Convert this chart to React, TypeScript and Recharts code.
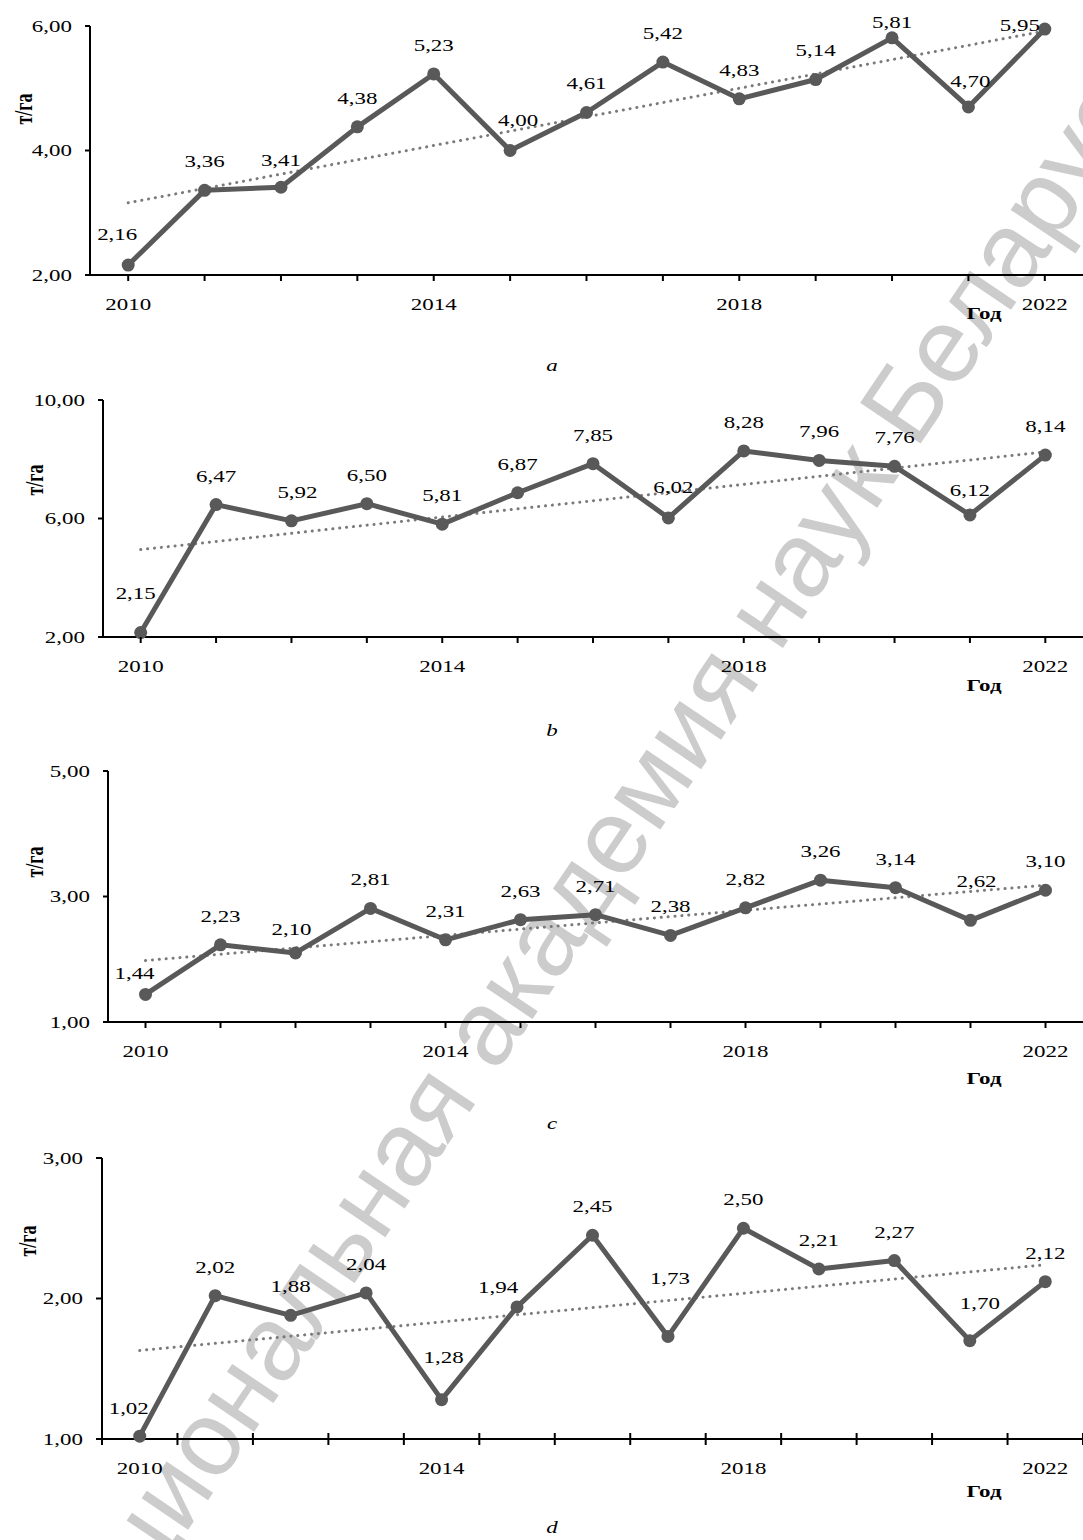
import React from "react";
import { LabelList, Line, LineChart, XAxis, YAxis } from "recharts";

// years on the x axis
const years = [2010, 2011, 2012, 2013, 2014, 2015, 2016, 2017, 2018, 2019, 2020, 2021, 2022];
const labelYears = [2010, 2014, 2018, 2022];

// yield, t/ha
const yieldA = [2.16, 3.36, 3.41, 4.38, 5.23, 4.0, 4.61, 5.42, 4.83, 5.14, 5.81, 4.7, 5.95];
const yieldB = [2.15, 6.47, 5.92, 6.5, 5.81, 6.87, 7.85, 6.02, 8.28, 7.96, 7.76, 6.12, 8.14];
const yieldC = [1.44, 2.23, 2.1, 2.81, 2.31, 2.63, 2.71, 2.38, 2.82, 3.26, 3.14, 2.62, 3.1];
const yieldD = [1.02, 2.02, 1.88, 2.04, 1.28, 1.94, 2.45, 1.73, 2.5, 2.21, 2.27, 1.7, 2.12];

// linear trend, value at 2010 and at 2022
const trendA = [3.16, 5.92];
const trendB = [4.95, 8.25];
const trendC = [1.98, 3.18];
const trendD = [1.63, 2.24];

const yTicksA = [2, 4, 6];
const yTicksB = [2, 6, 10];
const yTicksC = [1, 3, 5];
const yTicksD = [1, 2, 3];

const SERIF = '"Liberation Serif", "Times New Roman", serif';
const S = 1.35; // the source image is stretched horizontally
const PAGE_W = 1083;
const LINE = "#595959";

// label nudges (centre offset from the point), default is straight above
const shiftsA: Record<number, [number, number]> = { 0: [-11, -31], 2: [0, -27], 5: [8, -30], 10: [0, -16], 11: [2, -26], 12: [-25, -4] };
const shiftsB: Record<number, [number, number]> = { 0: [-5, -40], 2: [6, -29], 7: [5, -31], 11: [0, -25] };
const shiftsC: Record<number, [number, number]> = { 0: [-11, -21], 2: [-4, -24], 11: [6, -39] };
const shiftsD: Record<number, [number, number]> = { 0: [-11, -28], 4: [2, -43], 5: [-19, -20], 7: [2, -58], 11: [10, -38] };

const fmt = (v: number) => v.toFixed(2).replace(".", ",");

function buildRows(values: number[], trend: number[]) {
  return years.map((year, i) => ({
    year,
    value: values[i],
    trend: i === 0 ? trend[0] : i === years.length - 1 ? trend[1] : null,
  }));
}

function StretchText({ x, y, anchor = "middle", size = 17, weight = "normal", italic = false, rotate = 0, children }: any) {
  return (
    <text
      transform={`translate(${x} ${y}) scale(${S} 1)${rotate ? ` rotate(${rotate})` : ""}`}
      textAnchor={anchor}
      dy="0.35em"
      fontFamily={SERIF}
      fontSize={size}
      fontWeight={weight}
      fontStyle={italic ? "italic" : "normal"}
      fill="#000"
    >
      {children}
    </text>
  );
}

type Cfg = {
  rows: any[];
  yDomain: [number, number];
  yTicks: number[];
  plotTop: number;
  plotBottom: number;
  axisX: number;
  cross: boolean;
  yTickLen: number;
  shifts: Record<number, [number, number]>;
};

function YieldChart({ cfg }: { cfg: Cfg }) {
  const topPad = 30;
  const height = cfg.plotBottom - cfg.plotTop + topPad + 40;
  const step = (PAGE_W - cfg.axisX) / years.length;
  const ticks = cfg.cross ? [...years.map((y) => y - 0.5), 2022.5] : years;

  const xTick = (p: any) => {
    const v = p.payload.value;
    const labelYear = cfg.cross ? v + 0.5 : v;
    const lx = cfg.cross ? p.x + step / 2 : p.x;
    return (
      <g>
        <line x1={p.x} x2={p.x} y1={cfg.cross ? p.y - 6 : p.y} y2={p.y + 6} stroke="#000" strokeWidth={2} />
        {labelYears.includes(labelYear) && (
          <StretchText x={lx} y={p.y + 29}>
            {labelYear}
          </StretchText>
        )}
      </g>
    );
  };

  const yTick = (p: any) => (
    <StretchText x={p.x} y={p.y} anchor="end">
      {fmt(p.payload.value)}
    </StretchText>
  );

  const pointLabel = (p: any) => {
    const px = p.x ?? p.viewBox?.x;
    const py = p.y ?? p.viewBox?.y;
    if (px == null || py == null) return null;
    const idx = p.index ?? Math.round((px - cfg.axisX) / step - 0.5);
    const [dx, dy] = cfg.shifts[idx] ?? [0, -29];
    return (
      <StretchText key={idx} x={px + dx} y={py + dy}>
        {fmt(Number(p.value))}
      </StretchText>
    );
  };

  return (
    <div style={{ position: "absolute", left: 0, top: cfg.plotTop - topPad }}>
      <LineChart width={PAGE_W} height={height} data={cfg.rows} margin={{ top: topPad, right: 0, bottom: 10, left: cfg.axisX - 60 }}>
        <XAxis
          type="number"
          dataKey="year"
          domain={[2009.5, 2022.5]}
          ticks={ticks}
          interval={0}
          height={30}
          tickSize={0}
          tickMargin={0}
          tickLine={false}
          axisLine={{ stroke: "#000", strokeWidth: 2 }}
          tick={xTick}
        />
        <YAxis
          type="number"
          domain={cfg.yDomain}
          ticks={cfg.yTicks}
          interval={0}
          width={60}
          tickSize={cfg.yTickLen}
          tickMargin={13}
          tickLine={{ stroke: "#000", strokeWidth: 2 }}
          axisLine={{ stroke: "#000", strokeWidth: 2 }}
          tick={yTick}
        />
        <Line
          dataKey="trend"
          connectNulls
          dot={false}
          stroke="#7a7a7a"
          strokeWidth={3}
          strokeDasharray="0.1 6.8"
          strokeLinecap="round"
          isAnimationActive={false}
        />
        <Line
          dataKey="value"
          stroke={LINE}
          strokeWidth={5}
          strokeLinejoin="round"
          dot={{ r: 6.5, fill: LINE, stroke: LINE, strokeWidth: 0 }}
          isAnimationActive={false}
        >
          <LabelList dataKey="value" content={pointLabel} />
        </Line>
      </LineChart>
    </div>
  );
}

const charts: (Cfg & { unit: [number, number]; godY: number; caption: string; captionY: number })[] = [
  { rows: buildRows(yieldA, trendA), yDomain: [2, 6], yTicks: yTicksA, plotTop: 26, plotBottom: 275, axisX: 90, cross: false, yTickLen: 5, shifts: shiftsA, unit: [23, 109], godY: 313, caption: "a", captionY: 365 },
  { rows: buildRows(yieldB, trendB), yDomain: [2, 10], yTicks: yTicksB, plotTop: 400, plotBottom: 637, axisX: 103, cross: false, yTickLen: 5, shifts: shiftsB, unit: [34, 480], godY: 685, caption: "b", captionY: 730 },
  { rows: buildRows(yieldC, trendC), yDomain: [1, 5], yTicks: yTicksC, plotTop: 771, plotBottom: 1022, axisX: 108, cross: false, yTickLen: 5, shifts: shiftsC, unit: [34, 862], godY: 1078, caption: "c", captionY: 1123 },
  { rows: buildRows(yieldD, trendD), yDomain: [1, 3], yTicks: yTicksD, plotTop: 1158, plotBottom: 1439, axisX: 102, cross: true, yTickLen: 6, shifts: shiftsD, unit: [27, 1241], godY: 1491, caption: "d", captionY: 1527 },
];

export default function App() {
  return (
    <div style={{ position: "absolute", left: 0, top: 0, width: PAGE_W, height: 1540, overflow: "hidden", background: "#fff" }}>
      <svg width={PAGE_W} height={1540} style={{ position: "absolute", left: 0, top: 0 }}>
        <text
          transform="translate(595 860) rotate(-56)"
          textAnchor="middle"
          dy="0.35em"
          fontFamily='"Liberation Sans", Arial, sans-serif'
          fontSize={106}
          fill="#cccccc"
        >
          Национальная академия наук Беларуси
        </text>
      </svg>
      {charts.map((c) => (
        <YieldChart key={c.caption} cfg={c} />
      ))}
      <svg width={PAGE_W} height={1540} style={{ position: "absolute", left: 0, top: 0, pointerEvents: "none" }}>
        {charts.map((c) => (
          <g key={c.caption}>
            <StretchText x={c.unit[0]} y={c.unit[1]} weight="bold" size={18} rotate={-90}>
              т/га
            </StretchText>
            <StretchText x={984} y={c.godY} weight="bold" size={17}>
              Год
            </StretchText>
            <StretchText x={552} y={c.captionY} italic size={17}>
              {c.caption}
            </StretchText>
          </g>
        ))}
      </svg>
    </div>
  );
}
